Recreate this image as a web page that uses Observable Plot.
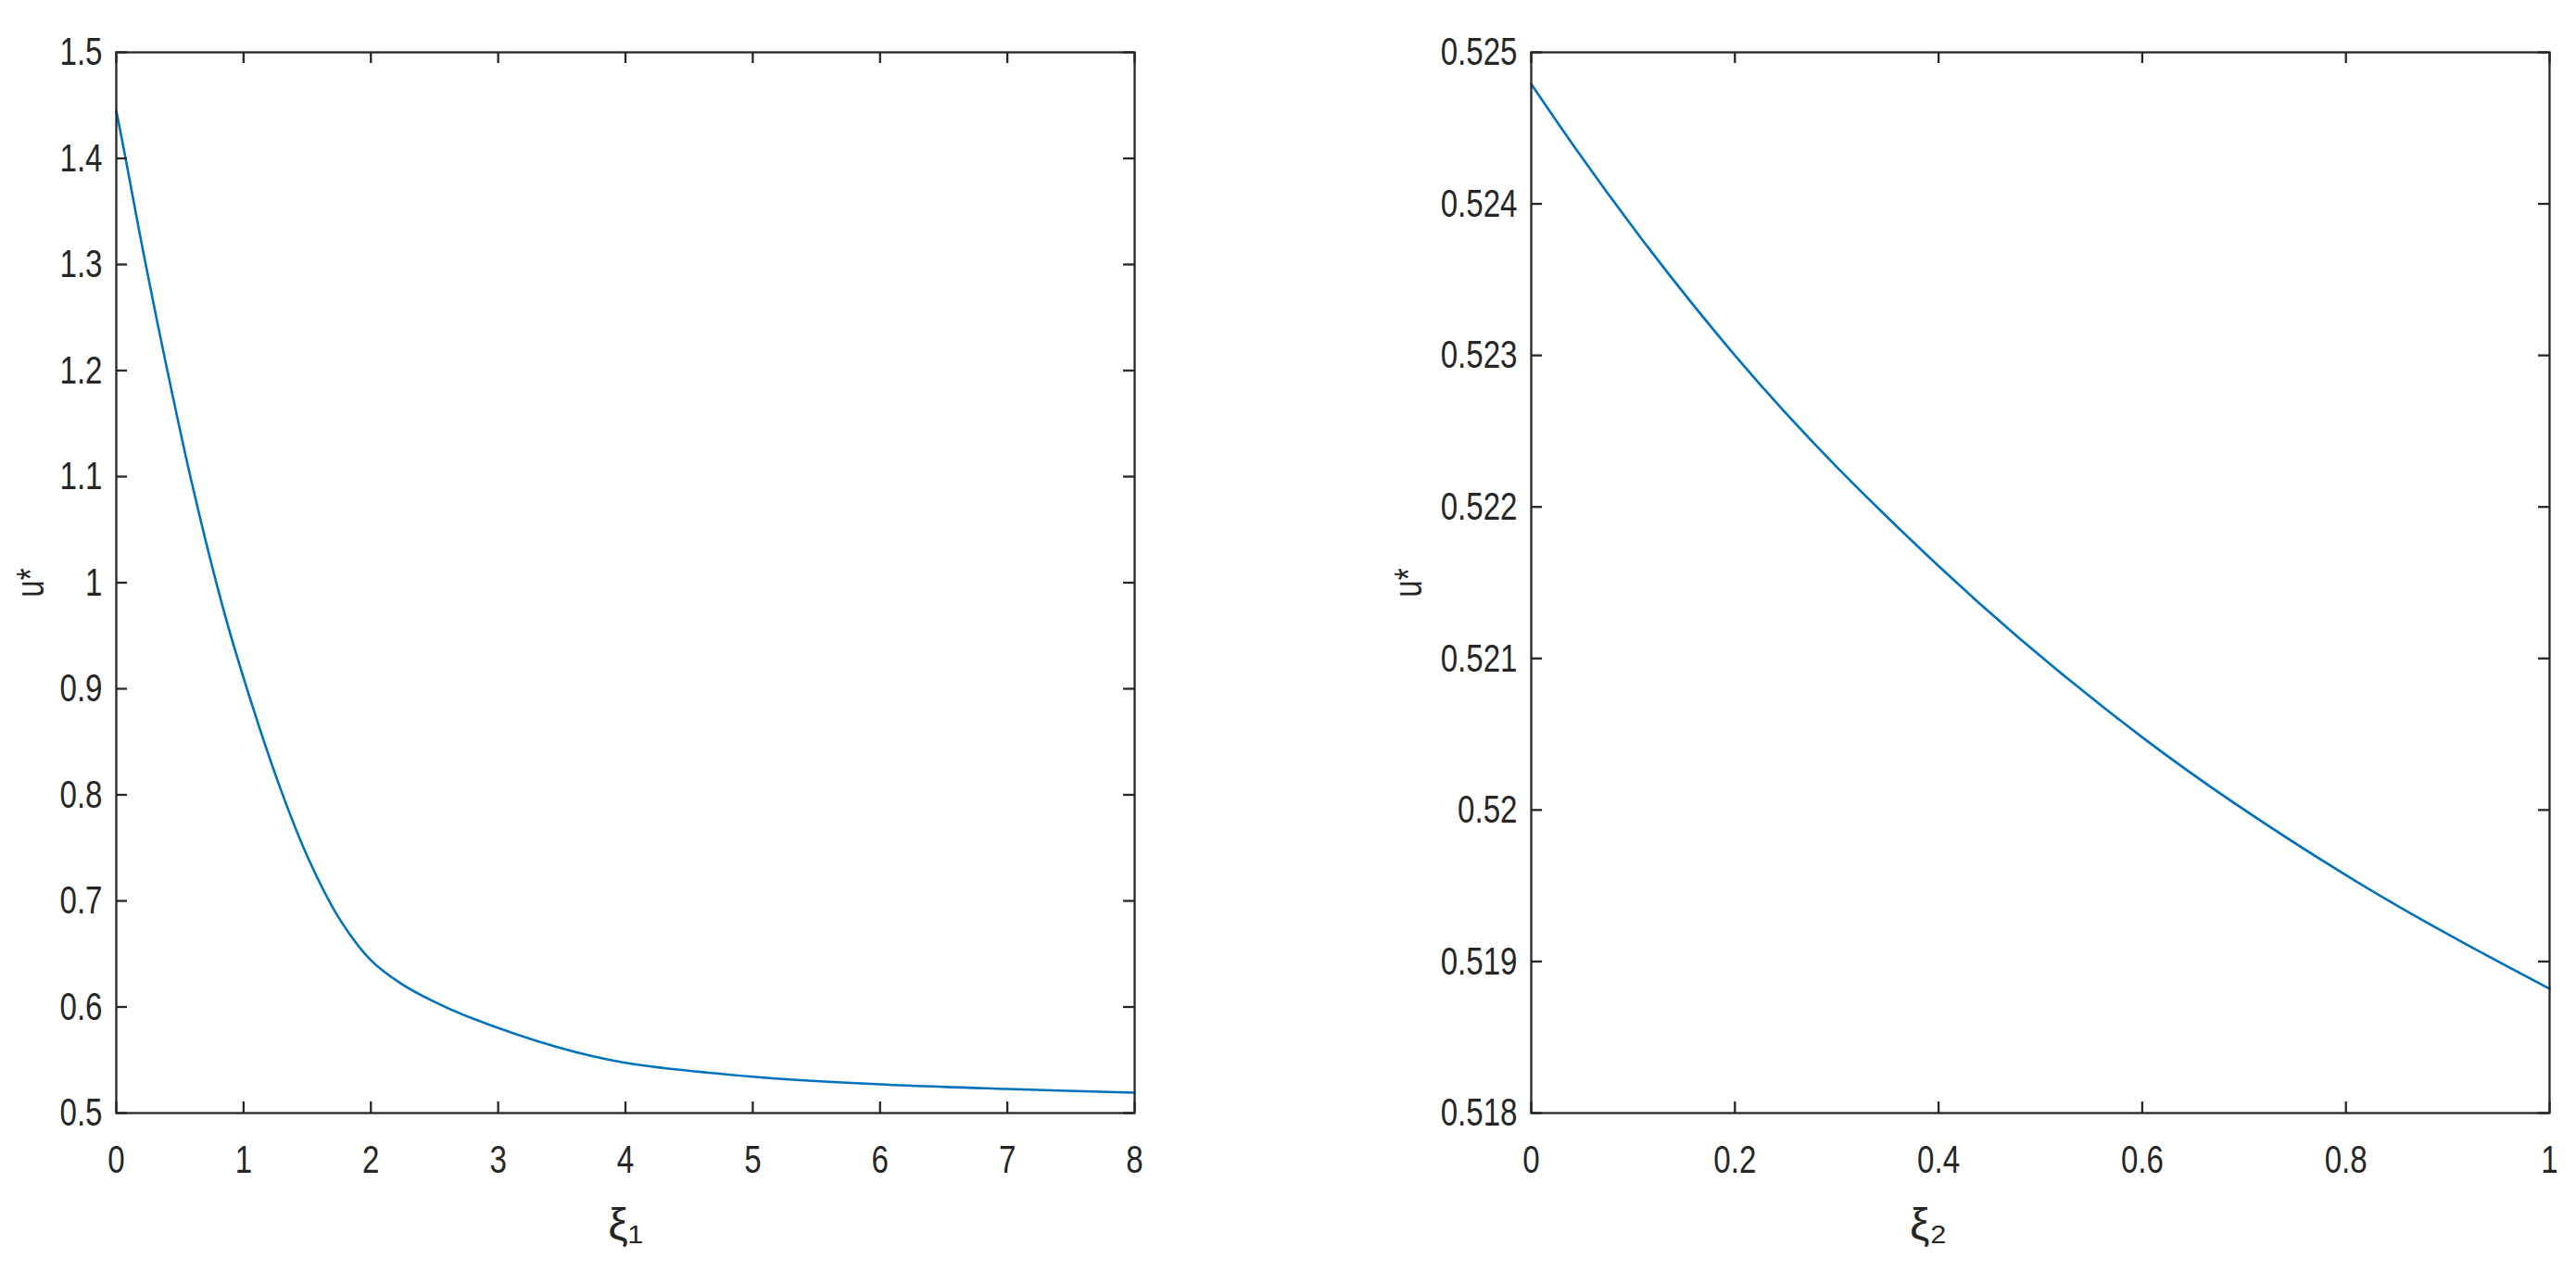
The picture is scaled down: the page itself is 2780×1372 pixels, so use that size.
<!DOCTYPE html>
<html><head><meta charset="utf-8">
<script src="https://cdn.jsdelivr.net/npm/d3@7"></script>
<script src="https://cdn.jsdelivr.net/npm/@observablehq/plot@0.6"></script>
<style>
body{margin:0;background:#fff;}
#wrap{position:relative;width:2780px;height:1372px;overflow:hidden;}
#wrap svg{position:absolute;top:0;}
</style></head><body><div id="wrap"></div>
<script>
// Left panel: u* versus xi_1
const xi1 = [0, 0.073, 0.218, 0.4, 0.582, 0.784, 0.922, 1.274, 1.516, 1.759, 2.001, 2.244, 2.487, 2.729, 3.457, 4, 5, 6, 7, 8];
const u1  = [1.445, 1.400, 1.308, 1.2006, 1.100, 1.0007, 0.941, 0.811, 0.738, 0.682, 0.644, 0.6215, 0.6055, 0.5925, 0.5625, 0.5474, 0.5343, 0.5271, 0.5227, 0.5192];
// Right panel: u* versus xi_2
const xi2 = [0, 0.043, 0.2, 0.4, 0.6, 0.8, 1];
const u2  = [0.52479, 0.52437, 0.5230, 0.52161, 0.52048, 0.51957, 0.51882];

const xTicks1 = [0, 1, 2, 3, 4, 5, 6, 7, 8];
const yTicks1 = [0.5, 0.6, 0.7, 0.8, 0.9, 1, 1.1, 1.2, 1.3, 1.4, 1.5];
const xTicks2 = [0, 0.2, 0.4, 0.6, 0.8, 1];
const yTicks2 = [0.518, 0.519, 0.52, 0.521, 0.522, 0.523, 0.524, 0.525];

const xLabel1 = "ξ₁", xLabel2 = "ξ₂", yLabel = "u*";

const INK = "#262626", BLUE = "#0072BD";
const FONT = "'Liberation Sans', Arial, Helvetica, sans-serif";
const FS = 43, SQ = 0.77;
const H = 1372, MT = 56, MB = 171, TICK = 12, SW = 2.3;

function panel({xs, us, xDomain, yDomain, xTicks, yTicks, width, ml, mr, xlabel, xlabelDx, ylabelDx, curve}) {
  const innerW = width - ml - mr, innerH = H - MT - MB;
  const data = xs.map((x, i) => ({x, u: us[i]}));
  const fmt = d => String(d);
  const svg = Plot.plot({
    width, height: H,
    marginLeft: ml, marginRight: mr, marginTop: MT, marginBottom: MB,
    x: {domain: xDomain},
    y: {domain: yDomain},
    style: {fontFamily: FONT, fontSize: FS + "px", color: INK, background: "transparent", overflow: "visible"},
    marks: [
      Plot.line(data, {x: "x", y: "u", stroke: BLUE, strokeWidth: 2.6, curve}),
      Plot.ruleX(xTicks, {x: d => d, insetTop: innerH - TICK, stroke: INK, strokeWidth: SW}),
      Plot.ruleX(xTicks, {x: d => d, insetBottom: innerH - TICK, stroke: INK, strokeWidth: SW}),
      Plot.ruleY(yTicks, {y: d => d, insetRight: innerW - TICK, stroke: INK, strokeWidth: SW}),
      Plot.ruleY(yTicks, {y: d => d, insetLeft: innerW - TICK, stroke: INK, strokeWidth: SW}),
      Plot.axisX(xTicks, {anchor: "bottom", tickSize: 0, tickPadding: 34, fontSize: FS, label: null, fill: INK, tickFormat: fmt}),
      Plot.axisY(yTicks, {anchor: "left", tickSize: 0, tickPadding: 15, fontSize: FS, label: null, fill: INK, tickFormat: fmt}),
      Plot.frame({stroke: INK, strokeWidth: SW}),
      Plot.text([yLabel], {frameAnchor: "left", dx: ylabelDx, rotate: -90, textAnchor: "middle", lineAnchor: "bottom", fontSize: FS, fill: INK}),
      Plot.text([xlabel], {frameAnchor: "bottom", dx: xlabelDx, dy: 136, textAnchor: "middle", lineAnchor: "bottom", fontSize: 48, fill: INK, className: "xlab"})
    ]
  });
  svg.querySelectorAll("text").forEach(el => {
    if (el.closest(".xlab")) return;
    const tr = el.getAttribute("transform");
    if (tr) el.setAttribute("transform", tr + ` scale(${SQ},1)`);
    else {
      const x = +el.getAttribute("x") || 0, y = +el.getAttribute("y") || 0;
      el.removeAttribute("x"); el.removeAttribute("y");
      el.setAttribute("transform", `translate(${x},${y}) scale(${SQ},1)`);
    }
  });
  return svg;
}

const wrap = document.getElementById("wrap");
const left = panel({xs: xi1, us: u1, xDomain: [0, 8], yDomain: [0.5, 1.5], xTicks: xTicks1, yTicks: yTicks1,
  width: 1390, ml: 125, mr: 166, xlabel: xLabel1, xlabelDx: 0, ylabelDx: -79, curve: "catmull-rom"});
left.style.left = "0px";
const right = panel({xs: xi2, us: u2, xDomain: [0, 1], yDomain: [0.518, 0.525], xTicks: xTicks2, yTicks: yTicks2,
  width: 1390, ml: 262, mr: 29, xlabel: xLabel2, xlabelDx: -121, ylabelDx: -119, curve: "monotone-x"});
right.style.left = "1390px";
wrap.appendChild(left);
wrap.appendChild(right);
</script></body></html>
